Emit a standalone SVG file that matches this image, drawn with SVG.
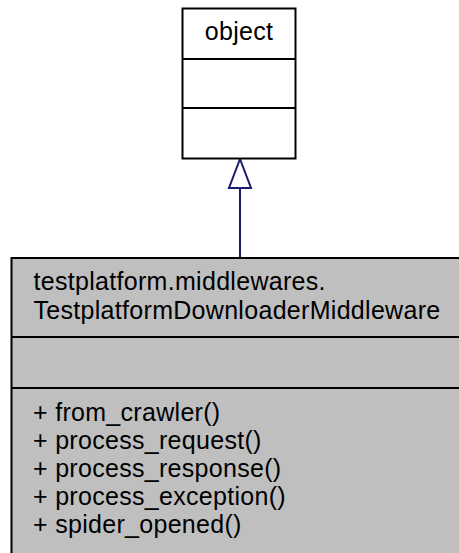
<svg xmlns="http://www.w3.org/2000/svg" width="459" height="553" viewBox="0 0 459 553">
<style>
.box{stroke:#000;stroke-width:2}
.t{font-family:"Liberation Sans",Arial,sans-serif;font-size:25px;letter-spacing:0.3px;fill:#000}
.edge{stroke:#191970;stroke-width:2;fill:none}
</style>
<rect width="459" height="553" fill="#fff"/>
<g id="connectors">
<line class="edge" x1="240" y1="258" x2="240" y2="188"/>
<polygon class="edge" fill="#fff" points="240,159 229,188 251,188"/>
</g>
<g id="object">
<rect class="box" x="182.5" y="8.5" width="113" height="150" fill="#fff"/>
<line class="box" x1="182.5" y1="59" x2="295.5" y2="59"/>
<line class="box" x1="182.5" y1="108" x2="295.5" y2="108"/>
<text class="t" x="239" y="40" text-anchor="middle">object</text>
</g>
<g id="TestplatformDownloaderMiddleware">
<rect class="box" x="11.5" y="258" width="470" height="320" fill="#bfbfbf"/>
<line class="box" x1="11.5" y1="337" x2="481.5" y2="337"/>
<line class="box" x1="11.5" y1="388" x2="481.5" y2="388"/>
<text class="t" x="33.5" y="290">testplatform.middlewares.</text>
<text class="t" x="33.5" y="318.5">TestplatformDownloaderMiddleware</text>
<text class="t" x="33" y="420.5">+ from_crawler()</text>
<text class="t" x="33" y="448.5">+ process_request()</text>
<text class="t" x="33" y="476.5">+ process_response()</text>
<text class="t" x="33" y="504.5">+ process_exception()</text>
<text class="t" x="33" y="532.5">+ spider_opened()</text>
</g>
</svg>
